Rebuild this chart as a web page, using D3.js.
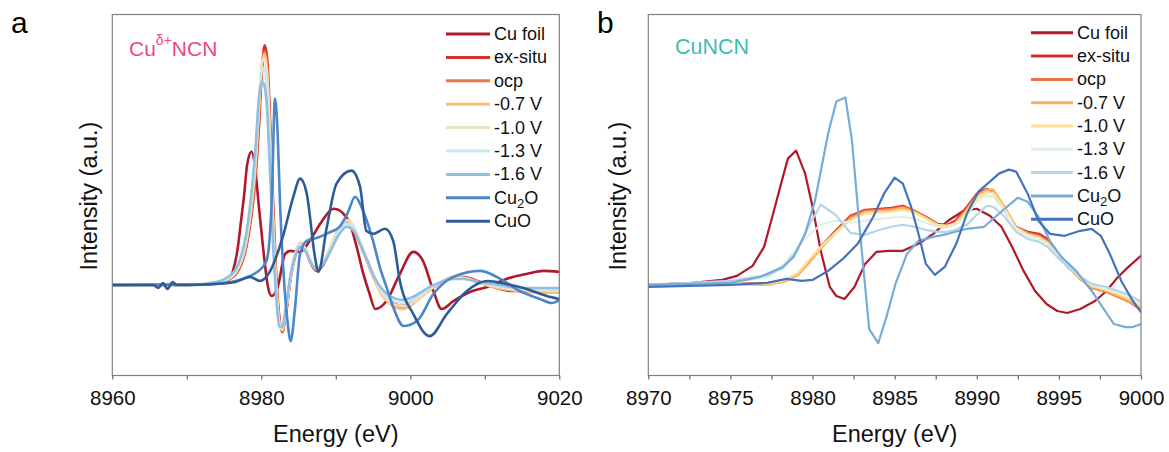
<!DOCTYPE html>
<html>
<head>
<meta charset="UTF-8">
<script src="https://d3js.org/d3.v7.min.js"></script>
<style>
    body {
        margin: 0;
        background: #fff;
        font-family: "Liberation Sans", Arial, Helvetica, sans-serif;
    }

    .frame {
        fill: none;
        stroke: #808080;
        stroke-width: 1.2px;
    }

    .axis path {
        display: none;
    }

    .axis line {
        stroke: #666;
        stroke-width: 1.2px;
    }

    .axis text {
        font-size: 20.5px;
        fill: #111;
    }

    .line {
        fill: none;
        stroke-linejoin: round;
        stroke-linecap: round;
    }

    .legend text {
        font-size: 18px;
        fill: #111;
    }

    .title {
        font-size: 23.5px;
        fill: #111;
    }
</style>
</head>
<body>
<svg width="1169" height="452"></svg>

<script>

    const seriesNames = ["Cu foil", "ex-situ", "ocp", "-0.7 V", "-1.0 V", "-1.3 V", "-1.6 V", "Cu2O", "CuO"];

    // ---------- panel a : Cu(δ+)NCN ----------
    const aTicks = [8960, 8980, 9000, 9020];
    const aMinor = [8970, 8990, 9010];
    const aColors = ["#b2182b", "#d73027", "#f4744a", "#fdbf6f", "#ebe2c3", "#cce6f2", "#91bfe0", "#4a86c8", "#2d5b9a"];

    const aFoilE = [8960, 8972, 8974.5, 8975.5, 8976.2, 8976.8, 8977.3, 8977.7, 8978.1, 8978.7, 8979.2, 8979.6, 8980.2, 8980.9, 8981.4, 8982.2, 8983.2, 8983.9, 8985.2, 8986.5, 8988, 8989.7, 8990.9, 8991.9, 8992.8, 8993.7, 8994.5, 8995.3, 8996.8, 8998.6, 9000.4, 9001.7, 9003.1, 9004.2, 9005.8, 9008, 9010.3, 9012.9, 9015.6, 9017.9, 9020];
    const aFoilV = [0, 0.005, 0.02, 0.05, 0.14, 0.35, 0.65, 0.9, 1.2, 1.33, 1.15, 0.84, 0.4, -0.02, -0.11, -0.02, 0.31, 0.34, 0.33, 0.44, 0.62, 0.76, 0.72, 0.61, 0.38, 0.11, -0.08, -0.24, -0.16, 0.11, 0.33, 0.24, -0.06, -0.24, -0.16, -0.07, -0.02, 0.06, 0.11, 0.14, 0.13];

    // shared energy grid of the in-situ series
    const aGridE = [8960, 8970, 8974, 8975.5, 8976.5, 8977.3, 8978, 8978.6, 8979.2, 8979.7, 8980.1, 8980.45, 8980.8, 8981.2, 8981.6, 8982, 8982.4, 8982.8, 8983.3, 8983.9, 8984.6, 8985.2, 8985.9, 8986.6, 8987.4, 8988.3, 8989.3, 8990.4, 8991.5, 8992.4, 8993.3, 8994.2, 8995.1, 8996.2, 8997.5, 8998.8, 9000, 9001.3, 9002.6, 9004.2, 9005.8, 9007.3, 9009, 9011.2, 9013.5, 9016.5, 9020];
    const aExsitu = [0, 0, 0.02, 0.05, 0.1, 0.2, 0.38, 0.65, 1.05, 1.6, 2.15, 2.39, 2.25, 1.6, 0.8, 0.1, -0.3, -0.47, -0.3, 0.05, 0.3, 0.4, 0.35, 0.22, 0.14, 0.2, 0.35, 0.52, 0.62, 0.55, 0.4, 0.24, 0.07, -0.08, -0.17, -0.21, -0.18, -0.11, -0.05, 0.03, 0.08, 0.08, 0.04, -0.02, -0.06, -0.06, -0.06];
    const aOcp = [0, 0, 0.02, 0.05, 0.11, 0.22, 0.41, 0.7, 1.12, 1.7, 2.2, 2.33, 2.15, 1.5, 0.7, 0.05, -0.33, -0.46, -0.28, 0.07, 0.31, 0.41, 0.36, 0.23, 0.15, 0.21, 0.37, 0.55, 0.64, 0.57, 0.41, 0.24, 0.07, -0.09, -0.19, -0.23, -0.2, -0.12, -0.05, 0.03, 0.08, 0.07, 0.03, -0.02, -0.05, -0.07, -0.07];
    const aV07 = [0, 0, 0.02, 0.06, 0.12, 0.23, 0.43, 0.73, 1.18, 1.78, 2.22, 2.3, 2.1, 1.42, 0.62, 0, -0.36, -0.45, -0.26, 0.08, 0.32, 0.42, 0.37, 0.24, 0.16, 0.22, 0.38, 0.56, 0.65, 0.58, 0.42, 0.25, 0.07, -0.1, -0.2, -0.24, -0.21, -0.13, -0.05, 0.03, 0.08, 0.07, 0.03, -0.02, -0.05, -0.07, -0.08];
    const aV10 = [0, 0, 0.02, 0.06, 0.12, 0.24, 0.45, 0.76, 1.22, 1.82, 2.22, 2.26, 2.05, 1.36, 0.56, -0.03, -0.38, -0.44, -0.25, 0.08, 0.32, 0.41, 0.36, 0.24, 0.16, 0.22, 0.37, 0.55, 0.64, 0.58, 0.42, 0.25, 0.08, -0.08, -0.18, -0.21, -0.19, -0.12, -0.04, 0.03, 0.07, 0.07, 0.03, -0.01, -0.04, -0.05, -0.06];
    const aV13 = [0, 0, 0.03, 0.07, 0.13, 0.26, 0.48, 0.8, 1.28, 1.86, 2.15, 2.16, 1.92, 1.25, 0.48, -0.07, -0.39, -0.43, -0.24, 0.08, 0.31, 0.4, 0.35, 0.23, 0.16, 0.22, 0.36, 0.53, 0.61, 0.56, 0.41, 0.25, 0.08, -0.06, -0.15, -0.18, -0.16, -0.1, -0.03, 0.03, 0.07, 0.06, 0.03, 0, -0.03, -0.04, -0.05];
    const aV16 = [0, 0, 0.03, 0.08, 0.15, 0.29, 0.52, 0.86, 1.35, 1.88, 2.03, 1.98, 1.72, 1.08, 0.38, -0.12, -0.41, -0.42, -0.22, 0.09, 0.3, 0.38, 0.34, 0.23, 0.16, 0.21, 0.34, 0.5, 0.58, 0.54, 0.4, 0.25, 0.09, -0.04, -0.12, -0.15, -0.13, -0.08, -0.02, 0.03, 0.06, 0.06, 0.03, 0.01, -0.02, -0.03, -0.03];

    const aCu2oE = [8960, 8972, 8976, 8978.5, 8979.8, 8980.7, 8981.1, 8981.4, 8981.84, 8982.2, 8982.5, 8983, 8983.5, 8983.95, 8984.5, 8985.2, 8986.1, 8987.5, 8989, 8990.5, 8991.6, 8992.6, 8993.6, 8995, 8995.9, 8996.8, 8997.7, 8999.1, 9000.9, 9003.1, 9005.8, 9009.4, 9011.6, 9014.7, 9017.4, 9019, 9020];
    const aCu2oV = [0, 0.005, 0.03, 0.09, 0.15, 0.24, 0.45, 0.84, 1.86, 1.5, 0.84, 0.1, -0.35, -0.56, -0.25, 0.31, 0.44, 0.47, 0.52, 0.58, 0.72, 0.88, 0.75, 0.44, 0.18, -0.02, -0.22, -0.41, -0.36, -0.09, 0.08, 0.14, 0.08, -0.06, -0.14, -0.18, -0.15];

    const aCuoE = [8960, 8965.5, 8966.2, 8966.8, 8967.4, 8968.1, 8968.6, 8970, 8974, 8976.5, 8978.5, 8979.8, 8981.2, 8982.1, 8983, 8984.3, 8985.2, 8986.1, 8987.2, 8987.65, 8988.8, 8990.1, 8992.1, 8993.25, 8994.1, 8995, 8996.6, 8997.7, 8998.6, 9000.4, 9002.6, 9004.9, 9007.6, 9010.3, 9012.9, 9015.6, 9018.3, 9020];
    const aCuoV = [0, 0, -0.03, 0.02, -0.04, 0.03, 0, 0, 0.01, 0.03, 0.08, 0.04, 0.14, 0.3, 0.51, 0.88, 1.06, 0.91, 0.28, 0.13, 0.58, 1.01, 1.14, 0.98, 0.54, 0.51, 0.56, 0.44, 0.04, -0.29, -0.51, -0.29, -0.06, 0.04, 0.01, -0.04, -0.11, -0.14];

    // ---------- panel b : CuNCN ----------
    const bTicks = [8970, 8975, 8980, 8985, 8990, 8995, 9000];
    const bMinor = [8972.5, 8977.5, 8982.5, 8987.5, 8992.5, 8997.5];
    const bColors = ["#b2182b", "#d73027", "#f46d43", "#fdae61", "#fee090", "#e0efe4", "#b3d5ea", "#76acd6", "#4473bd"];

    const bFoilE = [8970, 8972.7, 8974.5, 8975.4, 8976.35, 8977.05, 8977.6, 8978.2, 8978.5, 8979, 8979.55, 8980, 8980.5, 8981.05, 8981.45, 8981.95, 8982.55, 8983.2, 8983.9, 8984.6, 8985.5, 8986.45, 8987.35, 8988.25, 8989.2, 8990, 8990.8, 8991.5, 8992.15, 8992.85, 8993.55, 8994.25, 8994.9, 8995.5, 8996.3, 8997.2, 8997.9, 8998.6, 8999.3, 9000];
    const bFoilV = [0, 0.02, 0.05, 0.09, 0.19, 0.38, 0.71, 1.08, 1.26, 1.34, 1.11, 0.78, 0.34, -0.02, -0.11, -0.14, -0.02, 0.21, 0.33, 0.34, 0.34, 0.41, 0.51, 0.64, 0.74, 0.76, 0.69, 0.58, 0.38, 0.14, -0.06, -0.19, -0.26, -0.28, -0.24, -0.16, -0.06, 0.08, 0.19, 0.29];

    const bGridE = [8970, 8975, 8977.3, 8978.2, 8979.1, 8979.8, 8980.5, 8981.4, 8982.3, 8983.2, 8984.1, 8984.8, 8985.5, 8986.2, 8986.9, 8987.6, 8988.2, 8988.7, 8989.4, 8990, 8990.6, 8991, 8991.7, 8992.4, 8993.1, 8993.8, 8994.3, 8994.9, 8995.6, 8996.3, 8997, 8997.9, 8998.6, 8999.3, 9000];
    const bExsitu = [0, 0.01, 0.02, 0.04, 0.11, 0.24, 0.38, 0.54, 0.69, 0.75, 0.76, 0.77, 0.79, 0.74, 0.68, 0.61, 0.6, 0.64, 0.78, 0.91, 0.96, 0.93, 0.74, 0.58, 0.53, 0.51, 0.46, 0.32, 0.18, 0.06, -0.02, -0.06, -0.11, -0.16, -0.24];
    const bOcp = [0, 0.01, 0.01, 0.03, 0.1, 0.23, 0.37, 0.53, 0.68, 0.74, 0.75, 0.76, 0.78, 0.74, 0.67, 0.6, 0.58, 0.62, 0.76, 0.9, 0.95, 0.94, 0.76, 0.57, 0.52, 0.49, 0.44, 0.31, 0.17, 0.06, -0.03, -0.07, -0.12, -0.17, -0.25];
    const bV07 = [0, 0.01, 0, 0.03, 0.1, 0.22, 0.36, 0.52, 0.66, 0.73, 0.74, 0.75, 0.77, 0.73, 0.67, 0.6, 0.59, 0.62, 0.75, 0.89, 0.95, 0.95, 0.78, 0.58, 0.51, 0.48, 0.43, 0.3, 0.17, 0.06, -0.02, -0.06, -0.11, -0.16, -0.24];
    const bV10 = [0, 0.01, 0.01, 0.04, 0.12, 0.25, 0.38, 0.52, 0.65, 0.71, 0.72, 0.73, 0.75, 0.72, 0.66, 0.6, 0.59, 0.61, 0.73, 0.86, 0.92, 0.92, 0.76, 0.56, 0.5, 0.47, 0.42, 0.3, 0.17, 0.07, -0.01, -0.05, -0.09, -0.14, -0.21];
    const bV13 = [0, 0.02, 0.08, 0.2, 0.38, 0.5, 0.6, 0.64, 0.62, 0.64, 0.66, 0.67, 0.68, 0.66, 0.62, 0.58, 0.57, 0.6, 0.7, 0.83, 0.89, 0.88, 0.74, 0.56, 0.49, 0.46, 0.41, 0.3, 0.18, 0.08, 0, -0.04, -0.08, -0.12, -0.19];
    const bV16 = [0, 0.04, 0.1, 0.17, 0.35, 0.6, 0.8, 0.7, 0.52, 0.5, 0.55, 0.58, 0.6, 0.58, 0.55, 0.53, 0.53, 0.55, 0.6, 0.7, 0.79, 0.78, 0.68, 0.53, 0.46, 0.43, 0.38, 0.28, 0.17, 0.08, 0.01, -0.02, -0.06, -0.1, -0.17];

    const bCu2oE = [8970, 8975, 8976.8, 8978.2, 8978.85, 8979.55, 8980.15, 8980.95, 8981.45, 8982, 8982.4, 8982.9, 8983.45, 8984, 8984.5, 8985.05, 8985.75, 8986.45, 8987.35, 8988.25, 8989.4, 8990.45, 8991, 8991.7, 8992.5, 8993.1, 8993.75, 8994.45, 8995.15, 8996.05, 8997, 8997.65, 8998.35, 8999.05, 8999.5, 9000];
    const bCu2oV = [0, 0.02, 0.08, 0.18, 0.28, 0.51, 0.84, 1.51, 1.83, 1.87, 1.44, 0.51, -0.44, -0.58, -0.32, 0.01, 0.31, 0.44, 0.48, 0.51, 0.56, 0.58, 0.66, 0.76, 0.87, 0.83, 0.68, 0.44, 0.28, 0.14, -0.06, -0.22, -0.39, -0.42, -0.42, -0.39];

    const bCuoE = [8970, 8975, 8977.25, 8978.4, 8979.35, 8980, 8980.95, 8981.85, 8982.75, 8983.7, 8984.35, 8985, 8985.5, 8986, 8986.45, 8986.9, 8987.45, 8988.05, 8988.75, 8989.4, 8990.1, 8990.8, 8991.35, 8991.95, 8992.4, 8993.1, 8993.75, 8994.45, 8995.35, 8996.3, 8997, 8997.55, 8998.1, 8998.8, 8999.5, 9000];
    const bCuoV = [-0.02, 0, 0.02, 0.06, 0.04, 0.05, 0.14, 0.26, 0.41, 0.68, 0.91, 1.07, 1.01, 0.78, 0.51, 0.21, 0.1, 0.18, 0.41, 0.71, 0.93, 1.03, 1.11, 1.15, 1.13, 0.91, 0.64, 0.51, 0.49, 0.54, 0.56, 0.49, 0.31, 0.04, -0.16, -0.27];

    const yDomain = [-0.903, 2.697];

    function zip (e, v) {
        return e.map((d, i) => [d, v[i]]);
    }

    const svg = d3.select("svg");

    function drawPanel (p) {
        const x = d3.scaleLinear().domain(p.domain).range([p.x0, p.x1]);
        const y = d3.scaleLinear().domain(yDomain).range([375.5, 14.5]);

        const g = svg.append("g");

        g.append("clipPath")
            .attr("id", p.id + "-clip")
            .append("rect")
                .attr("x", p.x0).attr("y", 14.5)
                .attr("width", p.x1 - p.x0).attr("height", 361);

        // curves
        const line = d3.line()
            .x(d => x(d[0]))
            .y(d => y(d[1]))
            .curve(p.curve);

        g.append("g")
            .attr("clip-path", `url(#${p.id}-clip)`)
            .selectAll("path")
            .data(p.series)
            .join("path")
                .attr("class", "line")
                .attr("stroke", d => d.color)
                .attr("stroke-width", p.lineWidth)
                .attr("d", d => line(d.points));

        // frame
        g.append("rect")
            .attr("class", "frame")
            .attr("x", p.x0).attr("y", 14.5)
            .attr("width", p.x1 - p.x0).attr("height", 361);

        // bottom axis
        g.append("g")
            .attr("class", "axis")
            .attr("transform", "translate(0,375.5)")
            .call(d3.axisBottom(x)
                .tickValues(p.ticks.concat(p.minor))
                .tickSize(4)
                .tickSizeOuter(0)
                .tickPadding(11)
                .tickFormat(d => p.ticks.includes(d) ? d : ""));

        g.append("text")
            .attr("class", "title")
            .attr("text-anchor", "middle")
            .attr("x", (p.x0 + p.x1) / 2)
            .attr("y", 442)
            .text("Energy (eV)");

        g.append("text")
            .attr("class", "title")
            .attr("text-anchor", "middle")
            .attr("dominant-baseline", "central")
            .attr("transform", `translate(${p.ylabX},196) rotate(-90)`)
            .text("Intensity (a.u.)");

        // panel letter
        g.append("text")
            .attr("x", p.letterX).attr("y", 33)
            .style("font-size", "30px")
            .text(p.letter);

        // legend
        const leg = g.append("g")
            .attr("class", "legend")
            .selectAll("g")
            .data(p.series)
            .join("g")
                .attr("transform", (d, i) => `translate(0,${p.legY + i * p.legStep})`);

        leg.append("line")
            .attr("x1", p.legX).attr("x2", p.legX + p.legLen)
            .attr("stroke", d => d.color)
            .attr("stroke-width", 3);

        const lt = leg.append("text")
            .attr("x", p.legX + p.legLen + 4)
            .attr("dominant-baseline", "central");

        lt.each(function (d) {
            const t = d3.select(this);
            if (d.name === "Cu2O") {
                t.append("tspan").text("Cu");
                t.append("tspan").attr("dy", 5).style("font-size", "13px").text("2");
                t.append("tspan").attr("dy", -5).text("O");
            } else {
                t.text(d.name);
            }
        });

        return g;
    }

    const aData = [zip(aFoilE, aFoilV), zip(aGridE, aExsitu), zip(aGridE, aOcp), zip(aGridE, aV07),
        zip(aGridE, aV10), zip(aGridE, aV13), zip(aGridE, aV16), zip(aCu2oE, aCu2oV), zip(aCuoE, aCuoV)];
    const bData = [zip(bFoilE, bFoilV), zip(bGridE, bExsitu), zip(bGridE, bOcp), zip(bGridE, bV07),
        zip(bGridE, bV10), zip(bGridE, bV13), zip(bGridE, bV16), zip(bCu2oE, bCu2oV), zip(bCuoE, bCuoV)];

    const gA = drawPanel({
        id: "a", letter: "a", letterX: 11,
        x0: 112.3, x1: 559.3, domain: [8960, 9020],
        ticks: aTicks, minor: aMinor,
        curve: d3.curveMonotoneX, lineWidth: 2.6,
        ylabX: 89,
        legX: 446, legLen: 44, legY: 34, legStep: 23.4,
        series: seriesNames.map((n, i) => ({ name: n, color: aColors[i], points: aData[i] }))
    });

    const gB = drawPanel({
        id: "b", letter: "b", letterX: 597,
        x0: 648.3, x1: 1141, domain: [8970, 9000],
        ticks: bTicks, minor: bMinor,
        curve: d3.curveLinear, lineWidth: 2.2,
        ylabX: 618,
        legX: 1031, legLen: 42, legY: 32.8, legStep: 23.3,
        series: seriesNames.map((n, i) => ({ name: n, color: bColors[i], points: bData[i] }))
    });

    // sample labels
    const labA = gA.append("text")
        .attr("x", 129).attr("y", 56)
        .style("font-size", "21px")
        .attr("fill", "#f0457f");
    labA.append("tspan").text("Cu");
    labA.append("tspan").attr("dy", -11).style("font-size", "14px").text("δ+");
    labA.append("tspan").attr("dy", 11).text("NCN");

    gB.append("text")
        .attr("x", 675).attr("y", 54)
        .style("font-size", "21.5px")
        .attr("fill", "#3dbdae")
        .text("CuNCN");

</script>
</body>
</html>
